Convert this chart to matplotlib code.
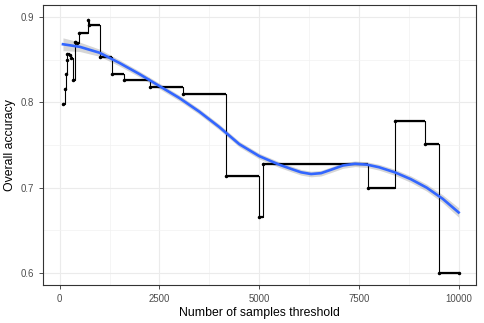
import numpy as np
import matplotlib
matplotlib.use('Agg')
import matplotlib.pyplot as plt
from matplotlib.ticker import MultipleLocator

plt.rcParams['font.family'] = ['Liberation Sans', 'DejaVu Sans']

# step data: threshold where accuracy changes, and accuracy from there on
thresholds = [80, 120, 150, 170, 190, 250, 290, 330, 375, 430, 480, 700, 730,
              1000, 1320, 1600, 2260, 3090, 4180, 5000, 5100, 7740, 8400,
              9160, 9500, 10000]
accuracy = [0.798, 0.816, 0.833, 0.850, 0.857, 0.855, 0.852, 0.826, 0.871,
            0.869, 0.881, 0.896, 0.890, 0.853, 0.833, 0.826, 0.818, 0.810,
            0.714, 0.666, 0.728, 0.700, 0.778, 0.751, 0.600, 0.600]

# loess smooth
smooth_x = [80, 500, 1000, 1500, 2000, 2500, 3000, 3500, 4000, 4500, 5000,
            5500, 5800, 6050, 6300, 6550, 6800, 7100, 7400, 7700, 8000, 8400,
            8800, 9200, 9600, 10000]
smooth_y = [0.868, 0.865, 0.858, 0.846, 0.833, 0.819, 0.805, 0.789, 0.771,
            0.751, 0.737, 0.727, 0.722, 0.718, 0.716, 0.717, 0.721, 0.726,
            0.728, 0.727, 0.724, 0.718, 0.710, 0.700, 0.687, 0.671]
smooth_se = [0.0075, 0.0055, 0.0042, 0.0036, 0.0034, 0.0033, 0.0033, 0.0033,
             0.0033, 0.0033, 0.0033, 0.0033, 0.0033, 0.0033, 0.0033, 0.0033,
             0.0033, 0.0033, 0.0033, 0.0033, 0.0034, 0.0036, 0.0038, 0.0041,
             0.0046, 0.0055]

x_ticks = [0, 2500, 5000, 7500, 10000]
y_ticks = [0.6, 0.7, 0.8, 0.9]

fig = plt.figure(figsize=(4.85, 3.23), dpi=100)
ax = fig.add_axes([0.0887, 0.1176, 0.8923, 0.867])

sx = np.array(smooth_x)
sy = np.array(smooth_y)
se = np.array(smooth_se)
ax.fill_between(sx, sy - se, sy + se, color='#999999', alpha=0.4, lw=0, zorder=2)

ax.plot(thresholds, accuracy, drawstyle='steps-post', color='black', lw=0.8, zorder=3)
ax.hlines(accuracy[:-1], thresholds[:-1], thresholds[1:], color='black', lw=1.6, zorder=3)
ax.plot(thresholds, accuracy, 'o', color='black', ms=1.5, zorder=3)

ax.plot(sx, sy, color='#3366FF', lw=1.9, zorder=4)

ax.set_xlim(-420, 10430)
ax.set_ylim(0.586, 0.914)
ax.set_xticks(x_ticks)
ax.set_yticks(y_ticks)
ax.xaxis.set_minor_locator(MultipleLocator(1250))
ax.yaxis.set_minor_locator(MultipleLocator(0.05))
ax.grid(which='major', color='#EBEBEB', lw=0.8)
ax.grid(which='minor', color='#F2F2F2', lw=0.5)
ax.set_axisbelow(True)
for s in ax.spines.values():
    s.set_color('#333333')
    s.set_linewidth(0.8)
ax.tick_params(which='major', length=3, color='#333333', labelsize=6.9,
               labelcolor='#4D4D4D', width=0.6)
ax.tick_params(which='minor', length=0)

ax.set_xlabel('Number of samples threshold', fontsize=8.8, labelpad=2)
ax.set_ylabel('Overall accuracy', fontsize=8.8, labelpad=3)

fig.savefig('out.png', dpi=100)
